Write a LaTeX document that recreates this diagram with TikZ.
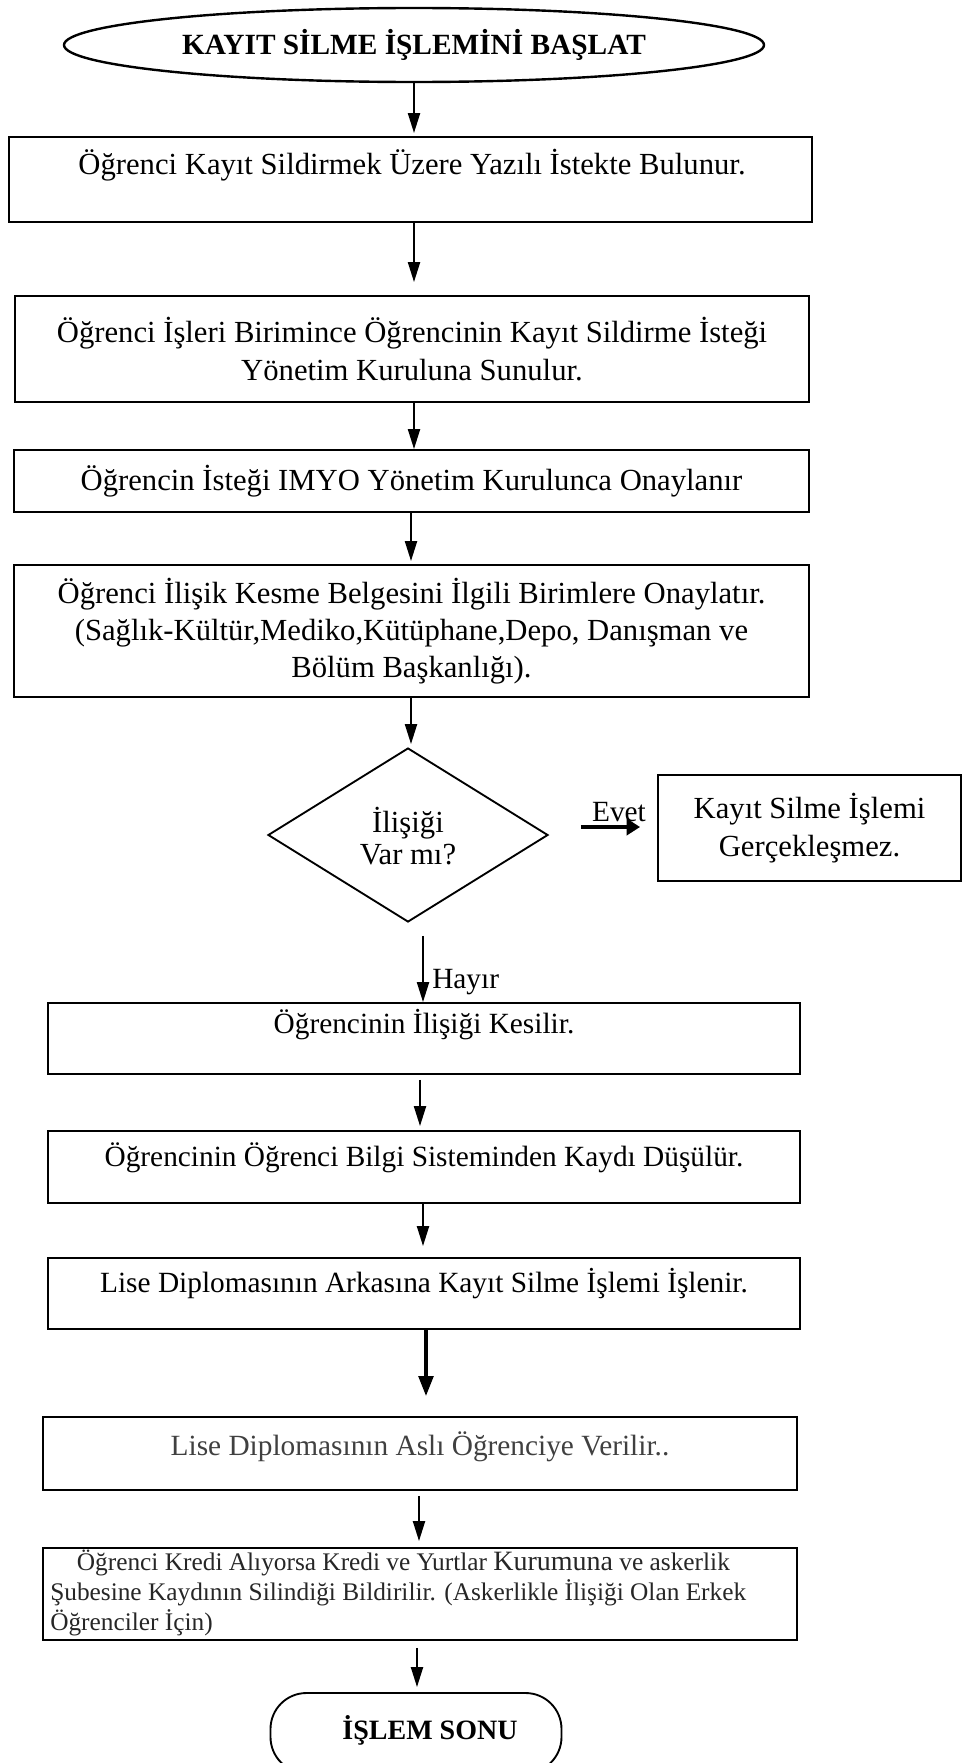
\documentclass[tikz,border=0pt]{standalone}
\usepackage{fontspec}
\setmainfont{Liberation Serif}
\usetikzlibrary{arrows.meta,shapes.geometric,calc}

\begin{document}
\begin{tikzpicture}[x=0.75pt,y=-0.75pt,
  box/.style={draw,line width=1.4pt,rectangle,inner sep=0pt},
  big/.style={font=\fontsize{23}{28}\selectfont},
  mid/.style={font=\fontsize{22}{27}\selectfont},
  txt/.style={inner sep=0pt,align=center},
  arr/.style={line width=1.6pt,-{Triangle[width=9pt,length=15pt]}},
  fatarr/.style={line width=2.6pt,-{Triangle[width=11pt,length=15pt]}},
]
\useasboundingbox (0,0) rectangle (962,1763);

% start terminal
\node[draw,line width=1.8pt,ellipse,inner sep=0pt,minimum width=525pt,minimum height=55.5pt,
      font=\fontsize{22}{26}\selectfont\bfseries] (start) at (414,45) {KAYIT SİLME İŞLEMİNİ BAŞLAT};

% process boxes
\node[box,minimum width=602.25pt,minimum height=63.75pt] (b1) at (410.5,179.5) {};
\node[txt,big] (b1t) at (412,165) {Öğrenci Kayıt Sildirmek Üzere Yazılı İstekte Bulunur.};

\node[box,txt,big,minimum width=595.5pt,minimum height=79.5pt] (b2) at (412,349)
  {Öğrenci İşleri Birimince Öğrencinin Kayıt Sildirme İsteği\\Yönetim Kuruluna Sunulur.};

\node[box,txt,big,minimum width=596.25pt,minimum height=46.5pt] (b3) at (411.5,481)
  {Öğrencin İsteği IMYO Yönetim Kurulunca Onaylanır};

\node[box,txt,font=\fontsize{23}{27.5}\selectfont,minimum width=596.25pt,minimum height=99pt] (b4) at (411.5,631)
  {Öğrenci İlişik Kesme Belgesini İlgili Birimlere Onaylatır.\\(Sağlık-Kültür,Mediko,Kütüphane,Depo, Danışman ve\\Bölüm Başkanlığı).};

% decision
\node[draw,line width=1.4pt,diamond,inner sep=0pt,minimum width=210pt,minimum height=130.5pt] (dia) at (408,835) {};
\node[txt,font=\fontsize{23}{24}\selectfont] (diat) at (408,836) {İlişiği\\Var mı?};

\node[box,txt,font=\fontsize{23}{29}\selectfont,minimum width=227.25pt,minimum height=79.5pt] (rbox) at (809.5,828)
  {Kayıt Silme İşlemi\\Gerçekleşmez.};

\node[txt,mid] (evet) at (619,812) {Evet};
\node[txt,mid,anchor=west] (hayir) at (432,982) {Hayır};

\node[box,minimum width=564pt,minimum height=53.25pt] (b5) at (424,1038.5) {};
\node[txt,mid] (b5t) at (424,1025) {Öğrencinin İlişiği Kesilir.};

\node[box,minimum width=564pt,minimum height=54pt] (b6) at (424,1167) {};
\node[txt,mid] (b6t) at (424,1158) {Öğrencinin Öğrenci Bilgi Sisteminden Kaydı Düşülür.};

\node[box,minimum width=564pt,minimum height=53.25pt] (b7) at (424,1293.5) {};
\node[txt,mid] (b7t) at (424,1284) {Lise Diplomasının Arkasına Kayıt Silme İşlemi İşlenir.};

\node[box,minimum width=565.5pt,minimum height=54.75pt] (b8) at (420,1453.5) {};
\node[txt,mid,text=black!75] (b8t) at (420,1447) {Lise Diplomasının Aslı Öğrenciye Verilir..};

\node[box,minimum width=565.5pt,minimum height=69pt] (b9) at (420,1594) {};
\node[inner sep=0pt,anchor=west,align=left,text=black!85,font=\fontsize{19}{22.5}\selectfont] (b9t) at (50,1593)
  {\hspace*{20pt}Öğrenci Kredi Alıyorsa Kredi ve Yurtlar {\fontsize{21}{22.5}\selectfont Kurumuna} ve askerlik\\Şubesine Kaydının Silindiği Bildirilir. (Askerlikle İlişiği Olan Erkek\\Öğrenciler İçin)};

% end terminal
\node[draw,line width=1.4pt,rectangle,rounded corners=27pt,inner sep=0pt,minimum width=218.25pt,minimum height=60pt] (end) at (416,1733) {};
\node[txt,font=\fontsize{21}{26}\selectfont\bfseries] (endt) at (430,1730) {İŞLEM SONU};

% connectors
\draw[arr] (start.south) coordinate (p0) -- ($(p0 |- b1.north)+(0,-3)$);
\draw[arr] ($(b1.south)+(3.5,0)$) coordinate (p1) -- ($(p1 |- b2.north)+(0,-13)$);
\draw[arr] ($(b2.south)+(2,0)$) coordinate (p2) -- (p2 |- b3.north);
\draw[arr] ($(b3.south)+(-0.5,0)$) coordinate (p3) -- ($(p3 |- b4.north)+(0,-3)$);
\draw[arr] ($(b4.south)+(-0.5,0)$) coordinate (p4) -- ($(p4 |- dia.north)+(0,-3)$);
\draw[line width=3.2pt,-{Triangle[width=12pt,length=10pt]}] ($(dia.east)+(32,-8)$) -- ($(rbox.west)+(-17,-1)$);
\draw[arr] ($(dia.south)+(15,13)$) coordinate (p5) -- (p5 |- b5.north);
\draw[arr] ($(b5.south)+(-4,5)$) coordinate (p6) -- ($(p6 |- b6.north)+(0,-4)$);
\draw[arr] ($(b6.south)+(-1,0)$) coordinate (p7) -- ($(p7 |- b7.north)+(0,-11)$);
\draw[fatarr] ($(b7.south)+(2,0)$) coordinate (p8) -- ($(p8 |- b8.north)+(0,-20)$);
\draw[arr] ($(b8.south)+(-1,5)$) coordinate (p9) -- ($(p9 |- b9.north)+(0,-6)$);
\draw[arr] ($(b9.south)+(-3,7)$) coordinate (p10) -- ($(p10 |- end.north)+(0,-5)$);
\end{tikzpicture}
\end{document}
